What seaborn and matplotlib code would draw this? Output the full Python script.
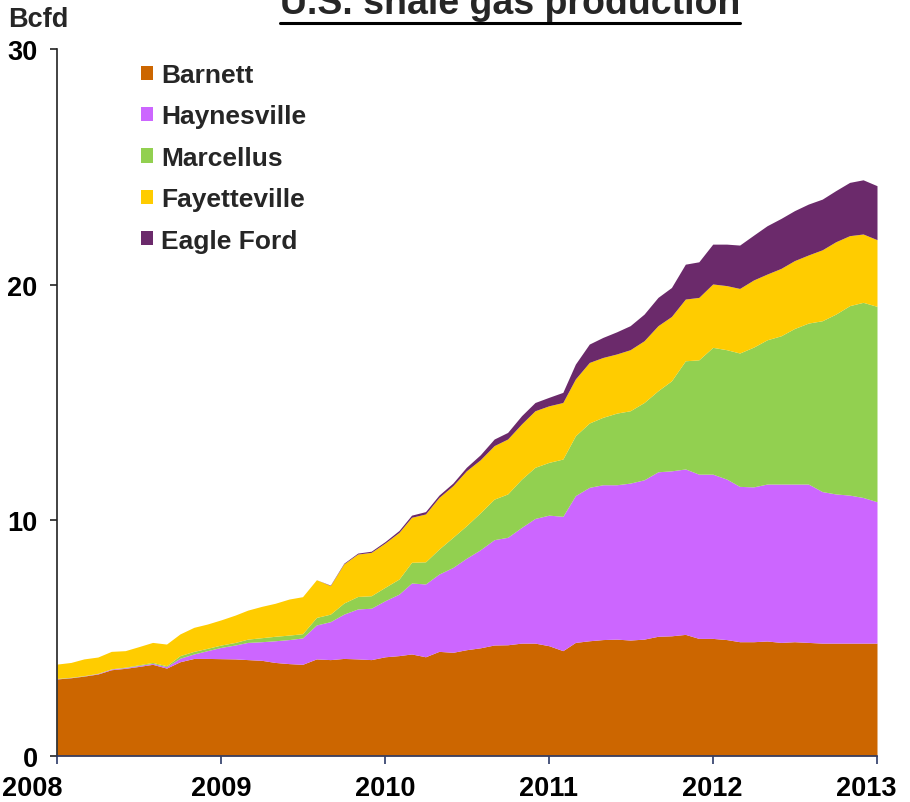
import numpy as np
import pandas as pd
import matplotlib
matplotlib.use("Agg")
import matplotlib.pyplot as plt
import matplotlib.transforms as mtransforms
from matplotlib.patches import Patch
from matplotlib.lines import Line2D
import seaborn as sns

# Monthly production by shale play, Bcf/d, Jan 2008 - Jan 2013
months = pd.date_range("2008-01-01", "2013-01-01", freq="MS")

barnett = [3.27, 3.32, 3.39, 3.48, 3.66, 3.72, 3.80, 3.89, 3.73, 4.00,
           4.14, 4.14, 4.13, 4.12, 4.09, 4.06, 3.97, 3.92, 3.89, 4.12,
           4.09, 4.14, 4.12, 4.09, 4.21, 4.26, 4.33, 4.21, 4.44, 4.40,
           4.51, 4.59, 4.71, 4.72, 4.79, 4.79, 4.68, 4.47, 4.82, 4.89,
           4.94, 4.96, 4.92, 4.96, 5.08, 5.10, 5.16, 4.99, 4.99, 4.94,
           4.85, 4.85, 4.88, 4.82, 4.85, 4.82, 4.79, 4.79, 4.79, 4.79, 4.79]
haynesville = [0.01, 0.01, 0.01, 0.02, 0.03, 0.03, 0.04, 0.04, 0.06, 0.15,
               0.19, 0.33, 0.48, 0.59, 0.73, 0.79, 0.92, 1.02, 1.12, 1.44,
               1.61, 1.88, 2.12, 2.18, 2.38, 2.61, 3.01, 3.09, 3.28, 3.60,
               3.88, 4.16, 4.47, 4.56, 4.91, 5.29, 5.54, 5.70, 6.23, 6.51,
               6.57, 6.55, 6.66, 6.76, 6.98, 7.00, 7.02, 6.97, 6.97, 6.81,
               6.59, 6.57, 6.66, 6.72, 6.69, 6.72, 6.43, 6.33, 6.28, 6.18, 6.00]
marcellus = [0.01, 0.01, 0.01, 0.01, 0.01, 0.02, 0.03, 0.04, 0.04, 0.11,
             0.11, 0.10, 0.10, 0.11, 0.14, 0.17, 0.19, 0.19, 0.18, 0.32,
             0.32, 0.47, 0.53, 0.53, 0.57, 0.64, 0.88, 0.94, 1.06, 1.28,
             1.38, 1.57, 1.72, 1.84, 2.05, 2.17, 2.24, 2.43, 2.54, 2.73,
             2.86, 3.04, 3.07, 3.28, 3.44, 3.82, 4.59, 4.85, 5.38, 5.49,
             5.66, 5.93, 6.12, 6.29, 6.60, 6.83, 7.25, 7.63, 8.04, 8.28, 8.29]
fayetteville = [0.61, 0.63, 0.71, 0.69, 0.74, 0.70, 0.77, 0.85, 0.92, 0.92,
                1.02, 1.03, 1.07, 1.16, 1.23, 1.33, 1.40, 1.53, 1.57, 1.60,
                1.21, 1.66, 1.80, 1.84, 1.88, 1.98, 1.91, 2.03, 2.19, 2.19,
                2.33, 2.25, 2.27, 2.33, 2.34, 2.40, 2.40, 2.40, 2.41, 2.57,
                2.54, 2.51, 2.59, 2.62, 2.76, 2.73, 2.62, 2.65, 2.69, 2.72,
                2.74, 2.85, 2.79, 2.86, 2.88, 2.89, 3.01, 3.07, 2.97, 2.90, 2.83]
eagle_ford = [0.0] * 20 + [
              0.02, 0.03, 0.04, 0.05, 0.06, 0.08, 0.09, 0.10, 0.10, 0.11,
              0.15, 0.21, 0.28, 0.28, 0.35, 0.35, 0.36, 0.43, 0.63, 0.78,
              0.85, 0.94, 1.02, 1.13, 1.20, 1.23, 1.48, 1.51, 1.69, 1.76,
              1.84, 1.90, 2.05, 2.12, 2.12, 2.16, 2.15, 2.17, 2.26, 2.30, 2.29]

plays = ["Barnett", "Haynesville", "Marcellus", "Fayetteville", "Eagle Ford"]
play_colors = ["#CC6600", "#CC66FF", "#92D050", "#FFCC00", "#6B2A6B"]
year_ticks = [2008, 2009, 2010, 2011, 2012, 2013]
y_ticks = [0, 10, 20, 30]

sns.set_theme(style="white")
plt.rcParams["font.family"] = ["Liberation Sans", "DejaVu Sans"]
plt.rcParams["font.weight"] = "bold"

W, H = 910, 803
fig = plt.figure(figsize=(W / 100, H / 100), dpi=100)
ax = fig.add_axes([57 / W, 1 - 757 / H, 820 / W, 707 / H])

ax.stackplot(months, barnett, haynesville, marcellus, fayetteville, eagle_ford,
             colors=play_colors, linewidth=0, labels=plays)

ax.set_xlim(pd.Timestamp("2008-01-01"), pd.Timestamp("2013-01-01"))
ax.set_ylim(0, 30)
ax.set_xticks([pd.Timestamp(f"{y}-01-01") for y in year_ticks])
ax.set_xticklabels([str(y) for y in year_ticks])
ax.set_yticks(y_ticks)
ax.set_yticklabels([str(v) for v in y_ticks])

sns.despine(ax=ax, top=True, right=True)
ax.spines["left"].set_color("#222222")
ax.spines["left"].set_linewidth(1.2)
ax.spines["bottom"].set_color("#2B3A67")
ax.spines["bottom"].set_linewidth(1.2)
ax.tick_params(axis="y", direction="out", length=5, width=1.2, color="#222222",
               pad=9, labelsize=19.5, left=True)
ax.tick_params(axis="x", direction="out", length=6, width=1.2, color="#2B3A67",
               pad=8, labelsize=19.5, bottom=True)
for lab in ax.get_xticklabels() + ax.get_yticklabels():
    lab.set_fontweight("bold")
    lab.set_color("black")

# keep the end year labels inside the canvas
xlabs = ax.get_xticklabels()
xlabs[0].set_transform(xlabs[0].get_transform()
                       + mtransforms.ScaledTranslation(-0.25, 0, fig.dpi_scale_trans))
xlabs[-1].set_transform(xlabs[-1].get_transform()
                        + mtransforms.ScaledTranslation(-0.11, 0, fig.dpi_scale_trans))

handles = [Patch(facecolor=c, edgecolor="none") for c in play_colors]
leg = ax.legend(handles, plays, loc="upper left",
                bbox_to_anchor=((141 - 57) / 820, (757 - 64) / 707),
                frameon=False, borderpad=0, borderaxespad=0,
                handlelength=0.45, handleheight=0.45, handletextpad=0.3,
                labelspacing=0.66,
                prop={"size": 19, "weight": "bold"})

fig.text(8 / W, 1 - 27 / H, "Bcfd", ha="left", va="baseline",
         fontsize=19.5, fontweight="bold")
title = fig.text(510 / W, 1 - 14 / H, "U.S. shale gas production", ha="center",
                 va="baseline", fontsize=27, fontweight="bold")

fig.canvas.draw()
bb = title.get_window_extent()
uy = (bb.y0 - 2) / H
fig.add_artist(Line2D([bb.x0 / W, bb.x1 / W], [uy, uy], transform=fig.transFigure,
                      color="black", linewidth=2.2))

fig.savefig("out.png", dpi=100, facecolor="white")
